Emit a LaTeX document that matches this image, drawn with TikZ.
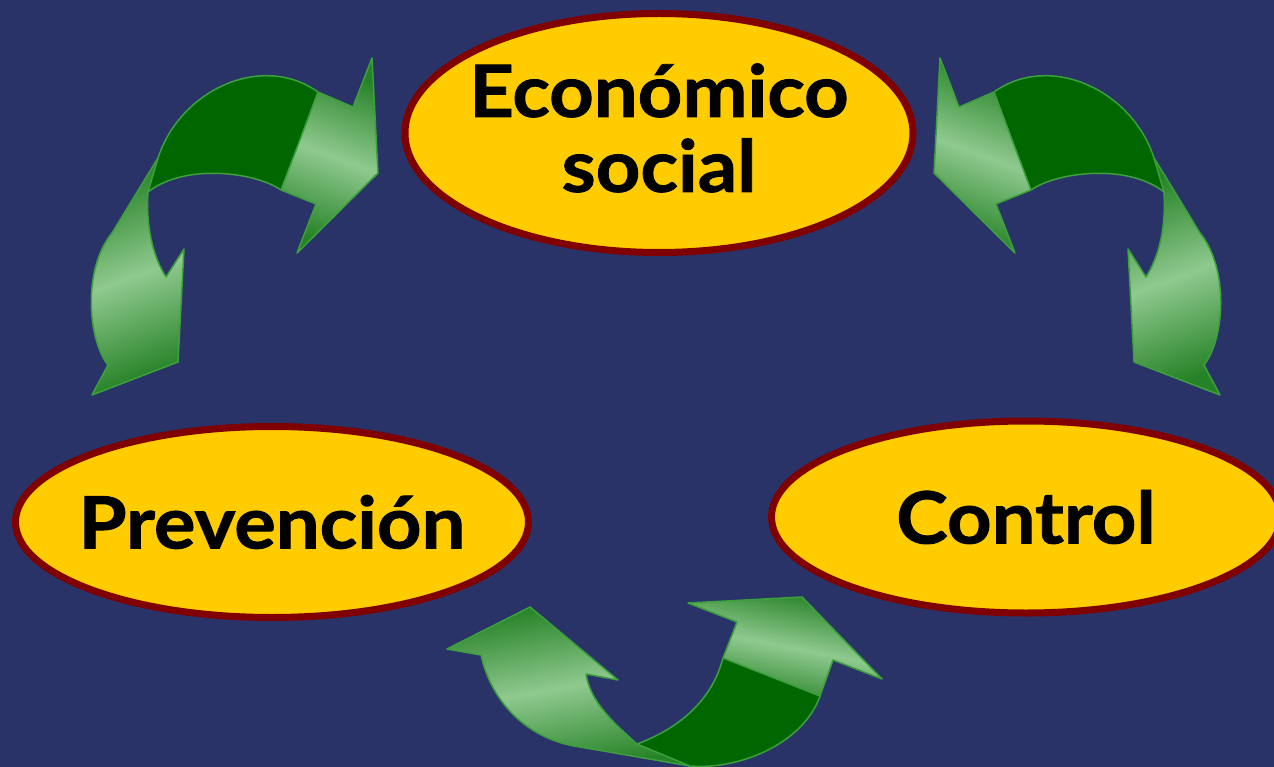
\documentclass[tikz,border=0pt]{standalone}
\usepackage{fontspec}
\setmainfont{Lato}[BoldFeatures={FakeStretch=1.08, FakeBold=1.2}]
\usetikzlibrary{shapes.geometric,positioning}

\definecolor{bgnavy}{RGB}{41,51,104}
\definecolor{ovalfill}{RGB}{255,204,0}
\definecolor{ovalrim}{RGB}{128,0,0}
\definecolor{bandgreen}{RGB}{0,102,0}
\definecolor{rimgreen}{RGB}{60,160,60}
\definecolor{shadegreen}{RGB}{38,130,38}
\definecolor{glowgreen}{RGB}{143,201,143}

\tikzset{
  oval/.style={ellipse, draw=ovalrim, line width=7pt, fill=ovalfill, inner sep=0pt},
  lbl/.style={font=\fontsize{72}{75}\selectfont\bfseries, align=center, inner sep=0pt},
  band/.style={fill=bandgreen},
  glow/.style={top color=shadegreen, bottom color=shadegreen, middle color=glowgreen},
  rim/.style={draw=rimgreen, line width=1.5pt, line join=round},
}

% curved double arrow on the upper left, mirrored for the upper right
\newcommand{\bendarrow}{%
  \fill[glow, shading angle=20] (148,192) .. controls (146,225) and (152,255) .. (166,277)
    -- (184,249) -- (178,362) -- (92,395) -- (108,365)
    .. controls (88,340) and (82,270) .. (112,233) -- (158,158) -- cycle;
  \fill[glow, shading angle=-20] (318,92) -- (353,107) -- (372,58) -- (378,173)
    -- (297,253) -- (316,204) -- (281,190) -- cycle;
  \fill[band] (318,92) -- (281,190) .. controls (255,172) and (185,163) .. (148,192)
    -- (158,158) .. controls (180,90) and (262,52) .. (318,92) -- cycle;
  \draw[rim] (318,92) -- (353,107) -- (372,58) -- (378,173) -- (297,253) -- (316,204)
    -- (281,190) .. controls (255,172) and (185,163) .. (148,192)
    .. controls (146,225) and (152,255) .. (166,277) -- (184,249) -- (178,362)
    -- (92,395) -- (108,365) .. controls (88,340) and (82,270) .. (112,233)
    -- (158,158) .. controls (180,90) and (262,52) .. (318,92) -- cycle;
  \draw[rim] (318,92) -- (281,190) (148,192) -- (158,158);
}

\begin{document}
\begin{tikzpicture}[x=1pt, y=-1pt]
  \fill[bgnavy] (0,0) rectangle (1274,767);
  \useasboundingbox (0,0) rectangle (1274,767);

  % the three ovals
  \node[oval, minimum width=508pt, minimum height=239pt] (econ) at (659,133) {};
  \node[oval, minimum width=513pt, minimum height=191pt] (prev) at (272,522) {};
  \node[oval, minimum width=509pt, minimum height=192pt] (ctrl) at (1026,517) {};

  \node[lbl] (econ label) at ([yshift=5pt]econ) {Económico\\social};
  \node[lbl] (prev label) at (prev) {Prevención};
  \node[lbl] (ctrl label) at (ctrl) {Control};

  % arrows
  \bendarrow
  \begin{scope}[xshift=1312pt, xscale=-1]
    \bendarrow
  \end{scope}

  \fill[glow, shading angle=10] (637,744) .. controls (610,720) and (590,700) .. (586,674)
    -- (618,680) -- (530,607) -- (447,649) -- (481,655)
    .. controls (492,705) and (530,740) .. (580,747) -- (690,766) -- cycle;
  \fill[glow, shading angle=-11] (723,658) -- (737,622) -- (688,603) -- (802,597)
    -- (882,679) -- (833,660) -- (820,696) -- cycle;
  \fill[band] (723,658) .. controls (712,700) and (680,728) .. (637,744)
    -- (690,766) .. controls (745,770) and (805,740) .. (820,696) -- cycle;
  \draw[rim] (723,658) -- (737,622) -- (688,603) -- (802,597) -- (882,679) -- (833,660)
    -- (820,696) .. controls (805,740) and (745,770) .. (690,766) -- (580,747)
    .. controls (530,740) and (492,705) .. (481,655) -- (447,649) -- (530,607)
    -- (618,680) -- (586,674) .. controls (590,700) and (610,720) .. (637,744)
    .. controls (680,728) and (712,700) .. (723,658) -- cycle;
  \draw[rim] (723,658) -- (820,696) (637,744) -- (690,766);
\end{tikzpicture}
\end{document}
